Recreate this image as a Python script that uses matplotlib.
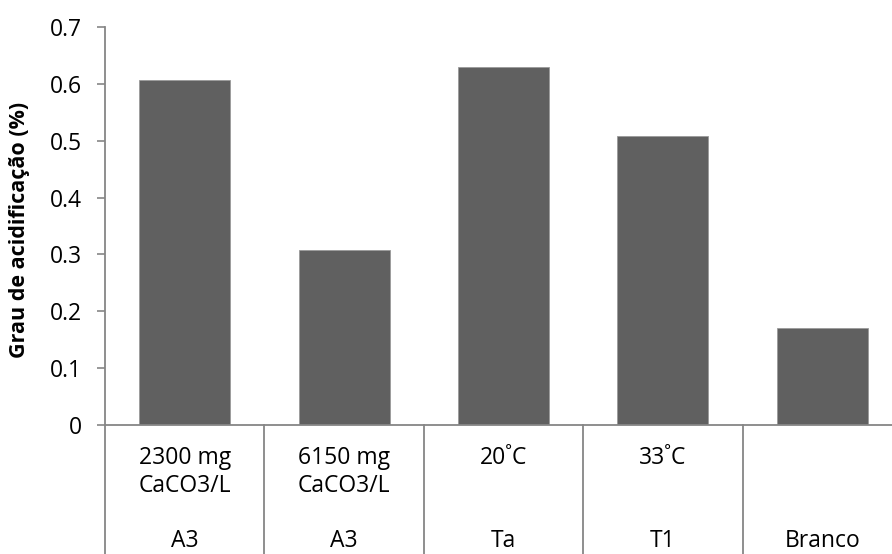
import matplotlib
matplotlib.use("Agg")
import matplotlib.pyplot as plt
from matplotlib.transforms import blended_transform_factory

# Data
inner_labels = ["2300 mg\nCaCO3/L", "6150 mg\nCaCO3/L", "20˚C", "33˚C", ""]
outer_labels = ["A3", "A3", "Ta", "T1", "Branco"]
values = [0.607, 0.308, 0.630, 0.509, 0.171]
y_ticks = [0, 0.1, 0.2, 0.3, 0.4, 0.5, 0.6, 0.7]
y_tick_labels = ["0", "0.1", "0.2", "0.3", "0.4", "0.5", "0.6", "0.7"]

W, H = 892, 554
fig = plt.figure(figsize=(W / 100, H / 100), dpi=100)
plt.rcParams["font.family"] = ["Open Sans", "DejaVu Sans"]

left, right, top, bottom = 105, 902, 27, 425
ax = fig.add_axes([left / W, 1 - bottom / H, (right - left) / W, (bottom - top) / H])

axis_color = "#868686"
label_size = 16.5
n = len(values)
x = list(range(n))
ax.bar(x, values, width=0.57, color="#606060", edgecolor="#9a9a9a", linewidth=0.6, zorder=2)

ax.set_xlim(-0.5, n - 0.5)
ax.set_ylim(0, 0.7)
ax.set_yticks(y_ticks)
ax.set_yticklabels(y_tick_labels, fontsize=label_size, color="#000000")
ax.tick_params(axis="y", direction="out", length=5.8, width=1.2, color=axis_color, pad=11)
ax.tick_params(axis="x", bottom=False, labelbottom=False)

for side in ("top", "right"):
    ax.spines[side].set_visible(False)
for side in ("left", "bottom"):
    ax.spines[side].set_color(axis_color)
    ax.spines[side].set_linewidth(1.3)

ax.set_ylabel("Grau de acidificação (%)", fontsize=15.5, fontweight="bold")
ax.yaxis.set_label_coords(-(left - 30) / (right - left), 0.49)

# Two-level category axis below the plot
tr = blended_transform_factory(ax.transData, fig.transFigure)
for i in range(n + 1):
    ax.plot([i - 0.5, i - 0.5], [1 - bottom / H, 0], transform=tr, color=axis_color,
            linewidth=1.3, clip_on=False)
for i in range(n):
    if inner_labels[i]:
        ax.text(i, 1 - 446 / H, inner_labels[i], transform=tr, ha="center", va="top",
                fontsize=label_size, linespacing=1.25)
    ax.text(i, 1 - 541 / H, outer_labels[i], transform=tr, ha="center", va="center",
            fontsize=label_size)

fig.savefig("out.png", dpi=100)
